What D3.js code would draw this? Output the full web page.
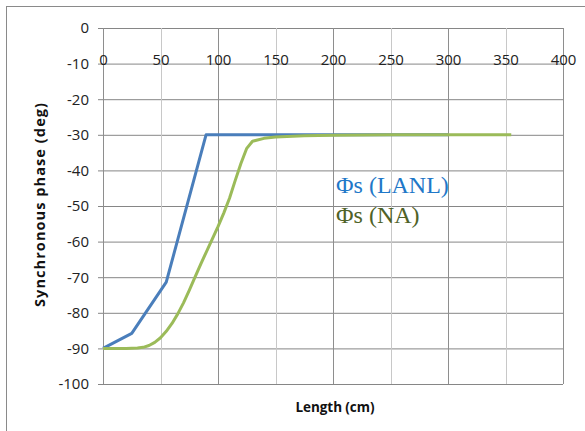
<!DOCTYPE html>
<html>
<head>
<meta charset="utf-8">
<script src="https://cdn.jsdelivr.net/npm/d3@7"></script>
<style>
  body { margin: 0; background: #fff; }
  svg { display: block; }
  .tick text { font-family: "Open Sans", sans-serif; font-size: 15px; fill: #222; }
</style>
</head>
<body>
<div id="chart"></div>
<script>
// series: length (cm) and synchronous phase (deg)
var lanlX = [0, 25, 55, 89.6, 300];
var lanlY = [-90, -85.8, -71.4, -30, -30];

var naX = [0, 10, 20, 30, 35, 40, 45, 50, 55, 60, 65, 70, 75, 80, 85, 90, 95, 100,
           105, 110, 115, 120, 125, 130, 140, 150, 175, 200, 250, 300, 355];
var naY = [-90, -90, -90, -89.9, -89.7, -89.2, -88.3, -87, -85.2, -83, -80.3, -77.2, -73.7, -70,
           -66.3, -62.8, -59.3, -55.8, -52, -47.8, -42.8, -38, -33.8, -31.8, -31, -30.6,
           -30.3, -30.1, -30, -30, -30];

var xTicks = [0, 50, 100, 150, 200, 250, 300, 350, 400];
var yTicks = [0, -10, -20, -30, -40, -50, -60, -70, -80, -90, -100];

var width = 585, height = 431;
var margin = {top: 28, right: 22, bottom: 47, left: 103};

var svg = d3.select("#chart").append("svg")
  .attr("width", width)
  .attr("height", height);

// outer chart frame (runs off the right and bottom edges)
svg.append("rect")
  .attr("x", 6.5).attr("y", 6.5)
  .attr("width", 600).attr("height", 460)
  .attr("fill", "none")
  .attr("stroke", "#8a8a8a");

var x = d3.scaleLinear().domain([0, 400]).range([margin.left, width - margin.right]);
var y = d3.scaleLinear().domain([-100, 0]).range([height - margin.bottom, margin.top]);

// horizontal grid + y axis labels (plain hyphen like the original)
var yAxis = svg.append("g")
  .attr("transform", "translate(" + margin.left + ",0)")
  .call(d3.axisLeft(y).tickValues(yTicks).tickSize(5).tickPadding(9)
    .tickFormat(d => String(d)));
yAxis.select(".domain").remove();
yAxis.selectAll(".tick line").attr("stroke", "#868686");
yAxis.selectAll(".tick").append("line")
  .attr("x1", 0).attr("x2", x(400) - margin.left)
  .attr("stroke", "#868686");

// vertical grid
svg.append("g").selectAll("line")
  .data(xTicks)
  .enter().append("line")
  .attr("x1", d => Math.round(x(d)) + 0.5)
  .attr("x2", d => Math.round(x(d)) + 0.5)
  .attr("y1", y(0)).attr("y2", y(-100))
  .attr("stroke", (d, i) => (i % 2 == 0 || d == 400) ? "#8e8e8e" : "#c8c8c8");

// x tick labels sit just under the zero line
var xAxis = svg.append("g")
  .attr("transform", "translate(0," + (y(0) + 26) + ")")
  .call(d3.axisBottom(x).tickValues(xTicks).tickSize(0).tickPadding(0)
    .tickFormat(d => String(d)));
xAxis.select(".domain").remove();

// series
var line = d3.line()
  .x(d => x(d[0]))
  .y(d => y(d[1]));

svg.append("path")
  .datum(d3.zip(lanlX, lanlY))
  .attr("d", line)
  .attr("fill", "none")
  .attr("stroke", "#4a7ebb")
  .attr("stroke-width", 3)
  .attr("stroke-linejoin", "round");

svg.append("path")
  .datum(d3.zip(naX, naY))
  .attr("d", line)
  .attr("fill", "none")
  .attr("stroke", "#9bbb59")
  .attr("stroke-width", 3)
  .attr("stroke-linejoin", "round");

// in-plot labels
svg.append("text")
  .attr("x", 336).attr("y", 193)
  .attr("font-family", "Liberation Serif, Times New Roman, serif")
  .attr("font-size", 24)
  .attr("fill", "#1f78c8")
  .text("Φs (LANL)");

svg.append("text")
  .attr("x", 336).attr("y", 223)
  .attr("font-family", "Liberation Serif, Times New Roman, serif")
  .attr("font-size", 24)
  .attr("fill", "#4f6228")
  .text("Φs (NA)");

// axis titles
svg.append("text")
  .attr("transform", "translate(45,205) rotate(-90)")
  .attr("text-anchor", "middle")
  .attr("font-family", "Open Sans, sans-serif")
  .attr("font-weight", "bold")
  .attr("font-size", 14.5)
  .attr("textLength", 204)
  .attr("lengthAdjust", "spacing")
  .attr("fill", "#111")
  .text("Synchronous phase (deg)");

svg.append("text")
  .attr("x", 335).attr("y", 412)
  .attr("text-anchor", "middle")
  .attr("font-family", "Open Sans, sans-serif")
  .attr("font-weight", "bold")
  .attr("font-size", 13.5)
  .attr("textLength", 79)
  .attr("lengthAdjust", "spacing")
  .attr("fill", "#111")
  .text("Length (cm)");
</script>
</body>
</html>
